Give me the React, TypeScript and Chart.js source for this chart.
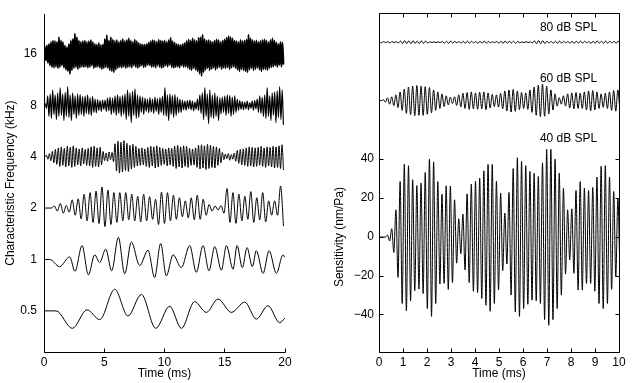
import React, { useEffect, useRef } from "react";
import { Chart, registerables } from "chart.js";

Chart.register(...registerables);

const FONT_FAMILY = '"Liberation Sans", Arial, Helvetica, sans-serif';
const FONT_SIZE = 12;

// ---------------- Left panel: responses by characteristic frequency ----------------
const CF_LABELS = ["0.5", "1", "2", "4", "8", "16"];
const LEFT_TIME_TICKS = [0, 5, 10, 15, 20];
const LEFT_X_TITLE = "Time (ms)";
const LEFT_Y_TITLE = "Characteristic Frequency (kHz)";

// values in hundredths of the trace spacing
const CF05_TIMES = [0, 1.0, 2.35, 3.57, 4.63, 5.87, 6.97, 8.08, 9.27, 10.43, 11.4, 12.5, 13.47, 14.44, 15.55, 16.66, 17.62, 18.59, 19.56, 20];
const CF05_VALUES = [0, 0, -34, 2, -17, 42, -10, 32, -34, 9, -34, 18, -3, 23, -3, 17, -16, 10, -23, -14];

const CF1_TIMES = [0, 0.47, 1.3, 2.13, 2.57, 3.16, 3.68, 4.21, 4.62, 5.12, 5.62, 6.17, 6.7, 7.25, 7.94, 8.63, 9.18, 9.68, 10.15, 10.71, 11.4, 12.09, 12.64, 13.2, 13.69, 14.17, 14.72, 15.14, 15.69, 16.02, 16.46, 16.85, 17.29, 17.62, 18.18, 18.68, 19.28, 19.84, 19.98];
const CF1_VALUES = [0, 0, -14, 5, -23, 27, -30, 9, -6, 20, -22, 43, -28, 34, -12, 18, -35, 31, -32, 9, -16, 27, -25, 27, -22, 25, -21, 27, -19, 27, -16, 23, -14, 17, -27, 17, -27, 9, 4];

const CF2_LEAD = [0, 0.6];
const CF2_START = 0.86;
const CF2_HALF = 0.247;
const CF2_PEAKS = [4, 9, 5, 16, 18, 27, 30, 33, 41, 35, 30, 30, 30, 27, 23, 27, 22, 17, 31, 30, 25, 20, 14, 20, 25, 17, 7, 4, 5, 38, 30, 27, 23, 32, 20, 30, 14, 14, 43];
const CF2_DEPTHS = [6, 10, 8, 14, 21, 25, 28, 30, 36, 32, 28, 25, 23, 25, 27, 25, 22, 32, 30, 25, 22, 17, 19, 23, 22, 14, 6, 4, 10, 28, 30, 25, 22, 28, 23, 27, 14, 14, 35];

const CF4_LEAD = [0, 0.1];
const CF4_START = 0.2;
const CF4_HALF = 0.12375;
const CF4_PEAKS = [3, 6, 10, 14, 17, 19, 16, 20, 18, 21, 17, 15, 17, 14, 16, 19, 20, 17, 18, 10, 7, 9, 8, 25, 30, 28, 31, 26, 22, 24, 20, 16, 17, 15, 18, 20, 19, 21, 18, 16, 15, 17, 16, 20, 22, 19, 21, 20, 16, 15, 17, 22, 23, 21, 24, 22, 20, 19, 16, 8, 5, 6, 4, 7, 12, 14, 15, 17, 19, 18, 17, 18, 20, 17, 19, 18, 20, 19, 21, 23];
const CF4_DEPTHS = [5, 8, 12, 15, 19, 17, 20, 18, 21, 19, 16, 18, 14, 17, 18, 21, 19, 20, 16, 8, 9, 6, 10, 28, 32, 30, 27, 29, 24, 21, 18, 17, 16, 19, 21, 18, 22, 20, 17, 15, 18, 16, 19, 23, 20, 22, 19, 21, 17, 16, 21, 24, 22, 25, 23, 21, 22, 17, 12, 6, 4, 7, 5, 9, 13, 16, 17, 19, 18, 20, 19, 17, 19, 21, 18, 20, 22, 21, 23, 26];

const CF8_LEAD = [0];
const CF8_START = 0.1;
const CF8_HALF = 0.1035;
const CF8_PEAKS = [3, 18, 22, 30, 20, 24, 34, 22, 25, 36, 20, 24, 18, 22, 21, 17, 18, 20, 15, 17, 12, 11, 9, 10, 10, 14, 16, 14, 18, 20, 17, 19, 22, 30, 24, 27, 32, 20, 18, 16, 14, 12, 15, 12, 16, 13, 15, 17, 34, 20, 22, 19, 21, 16, 12, 10, 8, 9, 10, 8, 6, 12, 20, 24, 34, 22, 30, 20, 24, 18, 15, 16, 18, 20, 19, 16, 18, 12, 9, 7, 6, 8, 5, 8, 9, 12, 18, 16, 20, 34, 18, 24, 26, 28, 36, 30];
const CF8_DEPTHS = [6, 22, 26, 18, 28, 22, 20, 30, 22, 24, 30, 18, 26, 20, 18, 22, 16, 18, 20, 14, 15, 10, 12, 8, 12, 11, 18, 15, 20, 16, 22, 18, 28, 22, 34, 20, 26, 24, 14, 18, 12, 15, 13, 16, 12, 18, 14, 20, 22, 30, 18, 24, 20, 15, 14, 9, 10, 7, 9, 11, 8, 10, 16, 28, 22, 36, 24, 26, 22, 30, 17, 14, 20, 16, 22, 18, 14, 10, 8, 9, 7, 9, 6, 10, 7, 14, 16, 22, 26, 22, 30, 20, 34, 24, 28, 38];

const CF16_LEAD = [0];
const CF16_START = 0.08;
const CF16_HALF = 0.0828;
const CF16_PEAKS = [13, 16, 19, 23, 26, 25, 23, 32, 26, 23, 16, 13, 19, 26, 29, 39, 32, 26, 23, 25, 26, 23, 25, 27, 23, 19, 18, 21, 17, 18, 29, 36, 26, 32, 28, 25, 27, 23, 26, 29, 25, 27, 30, 26, 23, 28, 25, 21, 19, 18, 18, 19, 22, 25, 27, 26, 23, 28, 26, 25, 26, 23, 27, 31, 25, 22, 19, 18, 17, 19, 21, 25, 28, 26, 30, 27, 25, 31, 32, 37, 29, 26, 27, 25, 23, 26, 28, 27, 23, 26, 28, 31, 34, 32, 30, 26, 25, 23, 27, 25, 26, 28, 37, 30, 27, 25, 26, 23, 25, 27, 28, 26, 23, 27, 30, 26, 22, 19, 23, 22];
const CF16_DEPTHS = [13, 18, 23, 26, 27, 25, 28, 26, 23, 27, 31, 34, 39, 32, 28, 26, 30, 27, 25, 26, 25, 27, 26, 23, 28, 26, 25, 27, 30, 28, 26, 28, 32, 34, 36, 31, 28, 26, 27, 25, 28, 26, 25, 27, 23, 26, 28, 25, 23, 26, 25, 22, 23, 26, 25, 27, 23, 26, 28, 26, 23, 25, 22, 26, 28, 26, 25, 27, 23, 26, 25, 27, 30, 32, 28, 31, 34, 39, 43, 36, 31, 28, 32, 30, 27, 31, 28, 26, 30, 27, 28, 26, 30, 27, 25, 28, 31, 34, 30, 32, 34, 36, 31, 28, 32, 30, 27, 31, 34, 30, 30, 32, 28, 26, 25, 23, 26, 22, 25, 21];

// line weight per characteristic-frequency trace (dense traces are drawn a bit heavier)
const CF_LINE_WIDTHS = [1, 1, 1, 1, 1.2, 2];

// ---------------- Right panel: sensitivity at three levels ----------------
const RIGHT_TIME_TICKS = [0, 1, 2, 3, 4, 5, 6, 7, 8, 9, 10];
const SENS_TICKS = [-40, -20, 0, 20, 40];
const RIGHT_X_TITLE = "Time (ms)";
const RIGHT_Y_TITLE = "Sensitivity (nm/Pa)";
const SPL_LABELS = ["80 dB SPL", "60 dB SPL", "40 dB SPL"];
const SPL_OFFSETS = [100, 70, 0];
const SPL_LABEL_TIMES = [7.9, 7.9, 7.9];
const SPL_LABEL_VALUES = [107.3, 81.1, 50.3];
const SPL_HALF = 0.08725;

const DB80_LEAD = [0];
const DB80_START = 0.02;
const DB80_PEAKS = [0.2, 0.3, 0.3, 0.4, 0.3, 0.6, 0.8, 0.7, 0.8, 0.6, 0.7, 0.6, 0.2, 0.1, 0.2, 0.4, 0.5, 0.6, 0.5, 0.4, 0.5, 0.6, 0.5, 0.4, 0.5, 0.6, 0.4, 0.2, 0.4, 0.5, 0.6, 0.5, 0.5, 0.4, 0.2, 0.3, 0.2, 0.7, 0.9, 0.8, 0.5, 0.4, 0.5, 0.6, 0.5, 0.4, 0.5, 0.5, 0.6, 0.5, 0.4, 0.5, 0.6, 0.5, 0.6, 0.5, 0.5, 0.6];
const DB80_TROUGHS = [-0.3, -0.2, -0.4, -0.3, -0.4, -0.7, -0.7, -0.8, -0.6, -0.7, -0.6, -0.4, -0.1, -0.2, -0.2, -0.5, -0.6, -0.5, -0.4, -0.5, -0.6, -0.5, -0.4, -0.6, -0.5, -0.5, -0.3, -0.2, -0.5, -0.6, -0.5, -0.4, -0.6, -0.3, -0.2, -0.2, -0.4, -0.8, -0.8, -0.7, -0.4, -0.5, -0.6, -0.5, -0.4, -0.5, -0.6, -0.5, -0.5, -0.4, -0.6, -0.5, -0.5, -0.6, -0.5, -0.4, -0.6, -0.5];

const DB60_LEAD = [0, 0.1];
const DB60_START = 0.181;
const DB60_PEAKS = [0.5, 1.5, 2, 3, 4.5, 6, 7, 7.5, 7.8, 7.5, 7.2, 6.8, 5.5, 4.5, 3.5, 2.5, 1.8, 2, 3, 3.8, 4.2, 4.5, 4, 4.3, 4.5, 4, 3.2, 3, 3.8, 5, 5.5, 5.8, 5, 4.2, 4, 5.5, 7, 8, 8.5, 7.5, 5.5, 3.5, 1.5, 2.5, 3.5, 4, 4.2, 3.8, 4.5, 5, 5.2, 4.5, 3.5, 3.8, 4.5, 5.2, 5.5];
const DB60_TROUGHS = [-0.8, -1.8, -2.5, -3.5, -5, -6.5, -7.2, -7.8, -7.5, -7.6, -7, -6.2, -5, -4, -3, -2.2, -1.5, -2.4, -3.2, -4, -4.5, -4.2, -4.4, -4.2, -4.6, -3.8, -3, -3.3, -4.2, -5.2, -5.8, -5.5, -4.6, -4, -4.5, -6, -7.5, -8.2, -8, -6.8, -4.8, -2.8, -1.8, -2.8, -3.8, -4.2, -4, -4, -4.8, -5.2, -4.8, -4, -3.4, -4, -5, -5.4, -5.6];

const DB40_LEAD = [0, 0.27];
const DB40_START = 0.356;
const DB40_PEAKS = [1, 4.3, 14, 28.5, 37.4, 36.6, 29.4, 26.5, 27.7, 33.2, 40, 38.6, 28.5, 22, 26.3, 26.2, 19.1, 9.4, 11.8, 22.2, 27.2, 28.7, 30.3, 34, 37.3, 37.3, 28.7, 22.6, 12.3, 22.9, 35.2, 40.7, 38.8, 36.6, 33.7, 32.8, 31.1, 38.1, 45, 45, 40, 32.8, 25, 14, 14.5, 23.9, 28.5, 25.1, 23.9, 25.5, 30.8, 36.4, 36.6, 30.8, 23.4, 20];
const DB40_TROUGHS = [-2, -7.9, -20.7, -34.1, -37.9, -32.8, -27.6, -26.7, -29, -36.7, -40.7, -34.1, -24.1, -23.8, -26.9, -23.4, -13.4, -8.6, -16.9, -23.4, -27.8, -28.6, -31.5, -35, -38.1, -34.1, -27.2, -17.2, -13.8, -29.8, -38.4, -40.7, -36.7, -34.5, -32.4, -32.8, -34.1, -42.4, -45.3, -42.4, -36.7, -29.8, -19, -11.7, -18.6, -27.2, -27.2, -23.8, -23.8, -27.8, -34.1, -36.7, -34.1, -26.9, -20.3, -21];

type Pt = { x: number; y: number };

function pairs(times: number[], values: number[]): Pt[] {
  return times.map((t, i) => ({ x: t, y: values[i] }));
}

function alternating(lead: number[], start: number, half: number, peaks: number[], troughs: number[]): Pt[] {
  const pts: Pt[] = lead.map((t) => ({ x: t, y: 0 }));
  const n = Math.min(peaks.length, troughs.length);
  for (let i = 0; i < n; i++) {
    pts.push({ x: start + 2 * i * half, y: peaks[i] });
    pts.push({ x: start + (2 * i + 1) * half, y: troughs[i] });
  }
  return pts;
}

const neg = (a: number[]) => a.map((v) => -v);

function leftTraces(): Pt[][] {
  return [
    pairs(CF05_TIMES, CF05_VALUES),
    pairs(CF1_TIMES, CF1_VALUES),
    alternating(CF2_LEAD, CF2_START, CF2_HALF, CF2_PEAKS, neg(CF2_DEPTHS)),
    alternating(CF4_LEAD, CF4_START, CF4_HALF, CF4_PEAKS, neg(CF4_DEPTHS)),
    alternating(CF8_LEAD, CF8_START, CF8_HALF, CF8_PEAKS, neg(CF8_DEPTHS)),
    alternating(CF16_LEAD, CF16_START, CF16_HALF, CF16_PEAKS, neg(CF16_DEPTHS)),
  ];
}

function rightTraces(): Pt[][] {
  return [
    alternating(DB80_LEAD, DB80_START, SPL_HALF, DB80_PEAKS, DB80_TROUGHS),
    alternating(DB60_LEAD, DB60_START, SPL_HALF, DB60_PEAKS, DB60_TROUGHS),
    alternating(DB40_LEAD, DB40_START, SPL_HALF, DB40_PEAKS, DB40_TROUGHS),
  ];
}

const font = { family: FONT_FAMILY, size: FONT_SIZE };
const crisp = (v: number) => Math.floor(v) + 0.5;

function lineDataset(data: Pt[], width = 1) {
  return {
    data,
    borderColor: "#000",
    borderWidth: width,
    pointRadius: 0,
    fill: false,
    cubicInterpolationMode: "monotone" as const,
  };
}

const leftDecor = {
  id: "leftDecor",
  afterDraw(chart: any) {
    const { ctx, chartArea: a, scales } = chart;
    const xs = scales.x;
    ctx.save();
    ctx.strokeStyle = "#000";
    ctx.lineWidth = 1;
    const L = crisp(a.left);
    const B = crisp(a.bottom);
    ctx.beginPath();
    ctx.moveTo(L, crisp(a.top) - 0.5);
    ctx.lineTo(L, B);
    ctx.lineTo(Math.round(a.right) + 0.5, B);
    LEFT_TIME_TICKS.forEach((v) => {
      const px = crisp(xs.getPixelForValue(v));
      ctx.moveTo(px, B);
      ctx.lineTo(px, B - 4);
    });
    ctx.stroke();
    ctx.fillStyle = "#000";
    ctx.font = `${FONT_SIZE}px ${FONT_FAMILY}`;
    ctx.textAlign = "center";
    ctx.textBaseline = "middle";
    ctx.fillText(LEFT_X_TITLE, (a.left + a.right) / 2, a.bottom + 22);
    ctx.translate(10.5, (a.top + a.bottom) / 2);
    ctx.rotate(-Math.PI / 2);
    ctx.fillText(LEFT_Y_TITLE, 0, 0);
    ctx.restore();
  },
};

const rightDecor = {
  id: "rightDecor",
  afterDraw(chart: any) {
    const { ctx, chartArea: a, scales } = chart;
    const xs = scales.x;
    const ys = scales.y;
    ctx.save();
    ctx.strokeStyle = "#000";
    ctx.lineWidth = 1;
    const L = crisp(a.left);
    const R = crisp(a.right);
    const T = crisp(a.top);
    const B = crisp(a.bottom);
    ctx.beginPath();
    ctx.rect(L, T, R - L, B - T);
    RIGHT_TIME_TICKS.forEach((v) => {
      const px = crisp(xs.getPixelForValue(v));
      ctx.moveTo(px, B);
      ctx.lineTo(px, B - 4);
      ctx.moveTo(px, T);
      ctx.lineTo(px, T + 4);
    });
    SENS_TICKS.forEach((v) => {
      const py = crisp(ys.getPixelForValue(v));
      ctx.moveTo(L, py);
      ctx.lineTo(L + 4, py);
      ctx.moveTo(R, py);
      ctx.lineTo(R - 4, py);
    });
    ctx.stroke();
    ctx.fillStyle = "#000";
    ctx.font = `${FONT_SIZE}px ${FONT_FAMILY}`;
    ctx.textAlign = "center";
    ctx.textBaseline = "middle";
    SPL_LABELS.forEach((s, i) => {
      ctx.fillText(s, xs.getPixelForValue(SPL_LABEL_TIMES[i]), ys.getPixelForValue(SPL_LABEL_VALUES[i]));
    });
    ctx.fillText(RIGHT_X_TITLE, (a.left + a.right) / 2, a.bottom + 22);
    ctx.translate(a.left - 39, ys.getPixelForValue(0));
    ctx.rotate(-Math.PI / 2);
    ctx.fillText(RIGHT_Y_TITLE, 0, 0);
    ctx.restore();
  },
};

function baseOptions(padding: any) {
  return {
    responsive: false,
    maintainAspectRatio: false,
    animation: false as const,
    events: [] as any[],
    layout: { padding },
    plugins: { legend: { display: false }, tooltip: { enabled: false } },
  };
}

function leftConfig(): any {
  const traces = leftTraces();
  return {
    type: "line",
    data: {
      datasets: traces.map((tr, i) =>
        lineDataset(
          tr.map((p) => ({ x: p.x, y: i + 1 + p.y / 100 })),
          CF_LINE_WIDTHS[i]
        )
      ),
    },
    options: {
      ...baseOptions({ left: 0, right: 31, top: 13, bottom: 0 }),
      scales: {
        x: {
          type: "linear",
          min: 0,
          max: 20,
          afterBuildTicks: (s: any) => {
            s.ticks = LEFT_TIME_TICKS.map((v) => ({ value: v }));
          },
          afterFit: (s: any) => {
            s.height = 31;
          },
          grid: { display: false, drawTicks: false },
          border: { display: false },
          ticks: { font, color: "#000", padding: 3, maxRotation: 0, autoSkip: false },
        },
        y: {
          type: "linear",
          min: 0.2,
          max: 6.77,
          afterBuildTicks: (s: any) => {
            s.ticks = CF_LABELS.map((_, i) => ({ value: i + 1 }));
          },
          afterFit: (s: any) => {
            s.width = 44;
          },
          grid: { display: false, drawTicks: false },
          border: { display: false },
          ticks: {
            font,
            color: "#000",
            padding: 7,
            autoSkip: false,
            callback: (v: any) => CF_LABELS[Math.round(v) - 1],
          },
        },
      },
    },
    plugins: [leftDecor],
  };
}

function rightConfig(): any {
  const traces = rightTraces();
  return {
    type: "line",
    data: {
      datasets: traces.map((tr, i) => lineDataset(tr.map((p) => ({ x: p.x, y: SPL_OFFSETS[i] + p.y })))),
    },
    options: {
      ...baseOptions({ left: 0, right: 13, top: 13, bottom: 0 }),
      scales: {
        x: {
          type: "linear",
          min: 0,
          max: 10,
          afterBuildTicks: (s: any) => {
            s.ticks = RIGHT_TIME_TICKS.map((v) => ({ value: v }));
          },
          afterFit: (s: any) => {
            s.height = 31;
          },
          grid: { display: false, drawTicks: false },
          border: { display: false },
          ticks: { font, color: "#000", padding: 3, maxRotation: 0, autoSkip: false },
        },
        y: {
          type: "linear",
          min: -59,
          max: 115,
          afterBuildTicks: (s: any) => {
            s.ticks = SENS_TICKS.map((v) => ({ value: v }));
          },
          afterFit: (s: any) => {
            s.width = 63;
          },
          grid: { display: false, drawTicks: false },
          border: { display: false },
          ticks: {
            font,
            color: "#000",
            padding: 5,
            autoSkip: false,
            callback: (v: any) => (v < 0 ? "\u2212" + Math.abs(v) : String(v)),
          },
        },
      },
    },
    plugins: [rightDecor],
  };
}

export default function App() {
  const leftRef = useRef<HTMLCanvasElement>(null);
  const rightRef = useRef<HTMLCanvasElement>(null);

  useEffect(() => {
    const left = new Chart(leftRef.current as HTMLCanvasElement, leftConfig());
    const right = new Chart(rightRef.current as HTMLCanvasElement, rightConfig());
    return () => {
      left.destroy();
      right.destroy();
    };
  }, []);

  return (
    <div style={{ position: "fixed", left: 0, top: 0, width: 632, height: 383, background: "#fff" }}>
      <canvas ref={leftRef} width={316} height={383} style={{ position: "absolute", left: 0, top: 0 }} />
      <canvas ref={rightRef} width={316} height={383} style={{ position: "absolute", left: 316, top: 0 }} />
    </div>
  );
}
